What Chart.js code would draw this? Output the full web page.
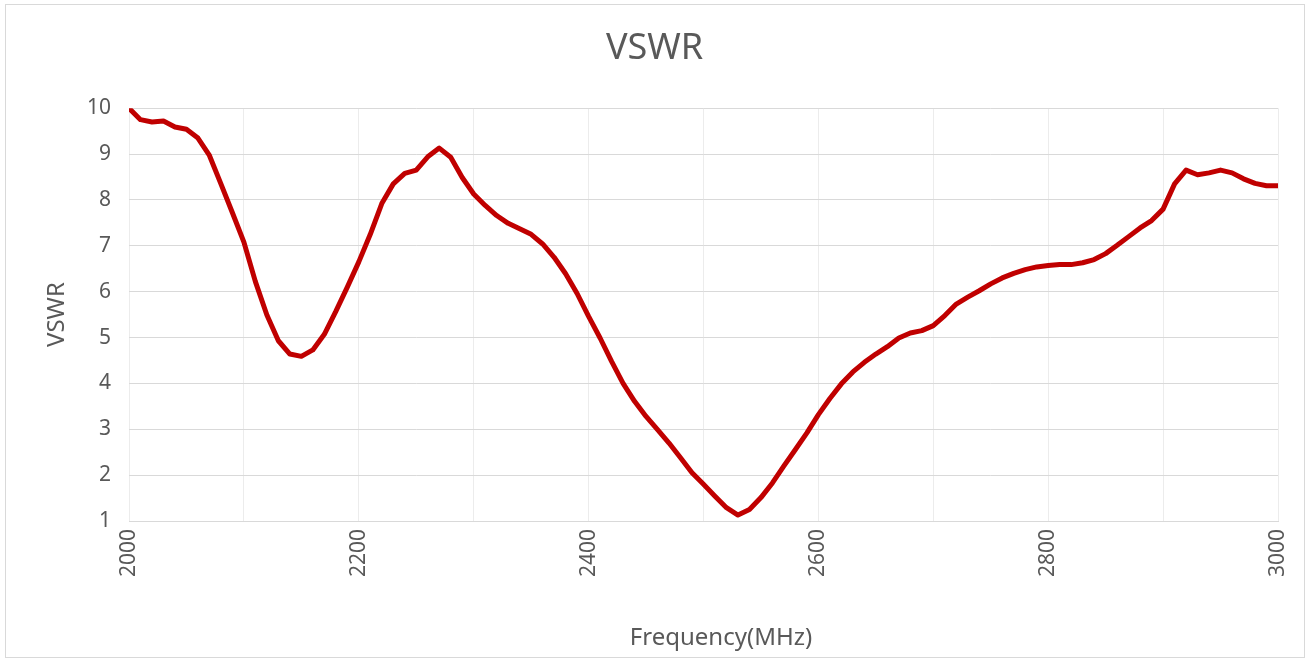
<!DOCTYPE html>
<html>
<head>
<meta charset="utf-8">
<title>VSWR</title>
<script src="https://cdn.jsdelivr.net/npm/chart.js@4.4.1/dist/chart.umd.min.js"></script>
<style>
    html, body { margin: 0; padding: 0; background: #ffffff; }
    #wrap { position: relative; width: 1309px; height: 662px; }
</style>
</head>
<body>
<div id="wrap"><canvas id="vswrChart"></canvas></div>
<script>
// --- Data (10 MHz steps) ---
const freqMHz = [
    2000, 2010, 2020, 2030, 2040, 2050, 2060, 2070, 2080, 2090,
    2100, 2110, 2120, 2130, 2140, 2150, 2160, 2170, 2180, 2190,
    2200, 2210, 2220, 2230, 2240, 2250, 2260, 2270, 2280, 2290,
    2300, 2310, 2320, 2330, 2340, 2350, 2360, 2370, 2380, 2390,
    2400, 2410, 2420, 2430, 2440, 2450, 2460, 2470, 2480, 2490,
    2500, 2510, 2520, 2530, 2540, 2550, 2560, 2570, 2580, 2590,
    2600, 2610, 2620, 2630, 2640, 2650, 2660, 2670, 2680, 2690,
    2700, 2710, 2720, 2730, 2740, 2750, 2760, 2770, 2780, 2790,
    2800, 2810, 2820, 2830, 2840, 2850, 2860, 2870, 2880, 2890,
    2900, 2910, 2920, 2930, 2940, 2950, 2960, 2970, 2980, 2990,
    3000
];
const vswr = [
    10.0, 9.75, 9.70, 9.72, 9.59, 9.54, 9.35, 8.97, 8.35, 7.72,
    7.08, 6.22, 5.49, 4.93, 4.64, 4.59, 4.73, 5.07, 5.57, 6.10,
    6.65, 7.25, 7.92, 8.35, 8.58, 8.65, 8.94, 9.13, 8.93, 8.49,
    8.13, 7.88, 7.66, 7.49, 7.37, 7.25, 7.04, 6.75, 6.39, 5.96,
    5.46, 4.99, 4.48, 4.00, 3.61, 3.28, 2.99, 2.70, 2.38, 2.05,
    1.80, 1.54, 1.29, 1.13, 1.25, 1.51, 1.83, 2.20, 2.56, 2.92,
    3.32, 3.67, 3.99, 4.25, 4.46, 4.64, 4.80, 4.99, 5.10, 5.15,
    5.26, 5.48, 5.73, 5.88, 6.02, 6.17, 6.30, 6.40, 6.48, 6.54,
    6.57, 6.59, 6.59, 6.63, 6.70, 6.83, 7.01, 7.20, 7.39, 7.55,
    7.80, 8.35, 8.65, 8.55, 8.59, 8.65, 8.59, 8.46, 8.36, 8.31,
    8.31
];
const yTicks = [1, 2, 3, 4, 5, 6, 7, 8, 9, 10];
const xLabelTicks = [2000, 2200, 2400, 2600, 2800, 3000];

const textGray = '#595959';
const fontFamily = '"Noto Sans", "Open Sans", sans-serif';

// outer frame + x axis title (office puts it a bit right of the plot centre)
const framePlugin = {
    id: 'frame',
    beforeDraw(chart) {
        const ctx = chart.ctx;
        ctx.save();
        ctx.fillStyle = '#ffffff';
        ctx.fillRect(0, 0, chart.width, chart.height);
        ctx.strokeStyle = '#d9d9d9';
        ctx.lineWidth = 1;
        ctx.strokeRect(5.5, 4.5, 1299, 653);
        ctx.restore();
    },
    afterDraw(chart) {
        const ctx = chart.ctx;
        ctx.save();
        ctx.fillStyle = textGray;
        ctx.font = '24px ' + fontFamily;
        ctx.textAlign = 'center';
        ctx.textBaseline = 'middle';
        ctx.fillText('Frequency(MHz)', 721, 638);
        ctx.restore();
    }
};

const ctx = document.getElementById('vswrChart').getContext('2d');
new Chart(ctx, {
    type: 'line',
    data: {
        datasets: [{
            label: 'VSWR',
            data: freqMHz.map((f, i) => ({ x: f, y: vswr[i] })),
            borderColor: '#c00000',
            borderWidth: 5,
            pointRadius: 0,
            tension: 0,
            borderJoinStyle: 'round',
            fill: false
        }]
    },
    options: {
        responsive: true,
        maintainAspectRatio: false,
        animation: false,
        layout: { padding: { left: 31, right: 31, top: 0, bottom: 0 } },
        plugins: {
            legend: { display: false },
            tooltip: { enabled: false },
            title: {
                display: true,
                text: 'VSWR',
                color: textGray,
                font: { family: fontFamily, size: 36, weight: 'normal' },
                padding: { top: 27, bottom: 38 }
            }
        },
        scales: {
            x: {
                type: 'linear',
                min: 2000,
                max: 3000,
                afterFit: scale => {
                    scale.height = 141;
                    scale.paddingLeft = 0;
                    scale.paddingRight = 0;
                },
                afterBuildTicks: scale => {
                    scale.ticks = freqMHz.filter(f => f % 100 === 0).map(v => ({ value: v }));
                },
                ticks: {
                    autoSkip: false,
                    maxRotation: 90,
                    minRotation: 90,
                    padding: 8,
                    color: textGray,
                    font: { family: fontFamily, size: 21 },
                    callback: v => xLabelTicks.includes(v) ? String(v) : ''
                },
                grid: { color: '#ececec', lineWidth: 1, drawTicks: false },
                border: { color: '#d9d9d9', width: 1 },
                title: { display: false }
            },
            y: {
                min: 1,
                max: 10,
                afterFit: scale => { scale.width = 98; },
                afterBuildTicks: scale => {
                    scale.ticks = yTicks.map(v => ({ value: v }));
                },
                ticks: {
                    padding: 18,
                    color: textGray,
                    font: { family: fontFamily, size: 21 }
                },
                grid: { color: '#d9d9d9', lineWidth: 1, drawTicks: false },
                border: { display: false },
                title: {
                    display: true,
                    text: 'VSWR',
                    color: textGray,
                    font: { family: fontFamily, size: 24 },
                    padding: { top: 12, bottom: 4 }
                }
            }
        }
    },
    plugins: [framePlugin]
});
</script>
</body>
</html>
